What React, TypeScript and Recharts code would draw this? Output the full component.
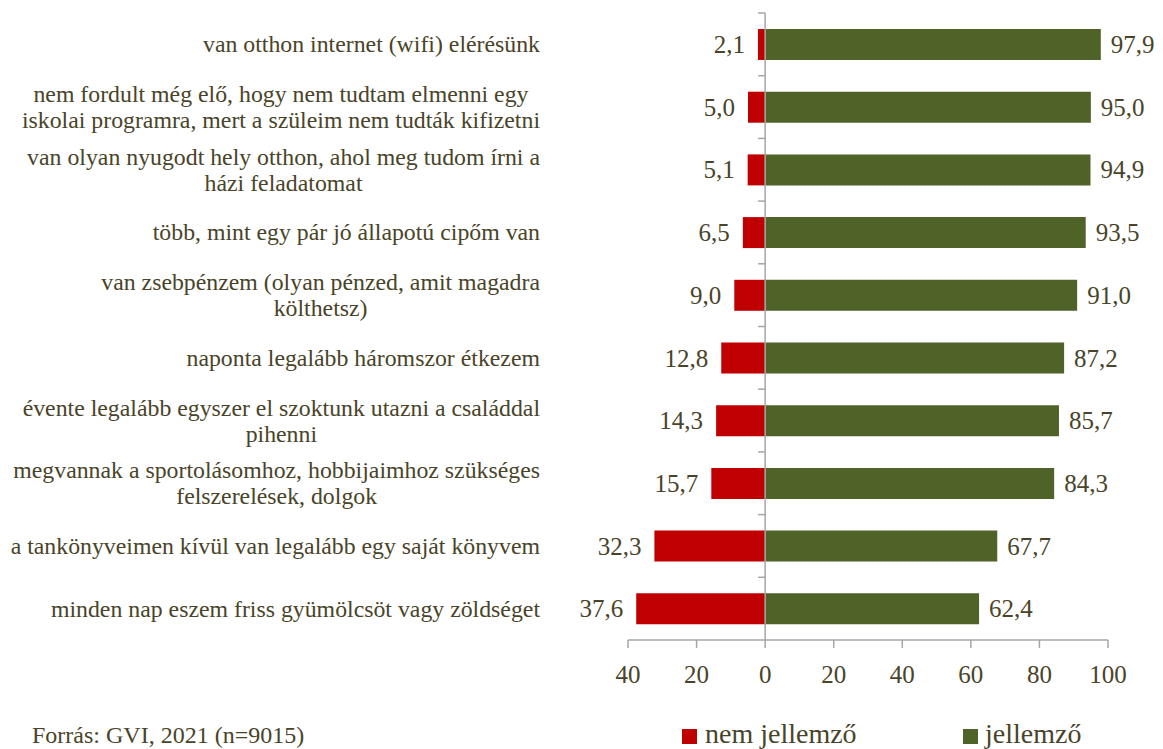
import { Bar, BarChart, LabelList, ReferenceLine, XAxis, YAxis } from "recharts";

const categories = [
  "van otthon internet (wifi) elérésünk",
  "nem fordult még elő, hogy nem tudtam elmenni egy\niskolai programra, mert a szüleim nem tudták kifizetni",
  "van olyan nyugodt hely otthon, ahol meg tudom írni a\nházi feladatomat",
  "több, mint egy pár jó állapotú cipőm van",
  "van zsebpénzem (olyan pénzed, amit magadra\nkölthetsz)",
  "naponta legalább háromszor étkezem",
  "évente legalább egyszer el szoktunk utazni a családdal\npihenni",
  "megvannak a sportolásomhoz, hobbijaimhoz szükséges\nfelszerelések, dolgok",
  "a tankönyveimen kívül van legalább egy saját könyvem",
  "minden nap eszem friss gyümölcsöt vagy zöldséget",
];
const nemJellemzo = [2.1, 5.0, 5.1, 6.5, 9.0, 12.8, 14.3, 15.7, 32.3, 37.6];
const jellemzo = [97.9, 95.0, 94.9, 93.5, 91.0, 87.2, 85.7, 84.3, 67.7, 62.4];
const xTicks = [-40, -20, 0, 20, 40, 60, 80, 100];
const seriesNames = ["nem jellemző", "jellemző"];
const seriesColors = ["#C00000", "#4F6228"];
const sourceNote = "Forrás: GVI, 2021 (n=9015)";

const FONT = '"Liberation Serif", "Times New Roman", serif';
const TEXT = "#494429";
const AXIS = "#a6a6a6";
const LABEL_SIZE = 23.8;

// negatives go left of zero, stackOffset="sign" keeps both bars starting at 0
const data = categories.map((name, i) => ({
  name,
  nem: -nemJellemzo[i],
  igen: jellemzo[i],
}));

let measureCtx: CanvasRenderingContext2D | null = null;
function textWidth(s: string, size: number) {
  if (!measureCtx) measureCtx = document.createElement("canvas").getContext("2d");
  if (!measureCtx) return s.length * size * 0.45;
  measureCtx.font = `${size}px ${FONT}`;
  return measureCtx.measureText(s).width;
}

const fmt = (v: number) => Math.abs(v).toFixed(1).replace(".", ",");

function CategoryTick({ x, y, payload }: any) {
  const lines = String(payload.value).split("\n");
  const blockW = Math.max(...lines.map((l) => textWidth(l, LABEL_SIZE)));
  // block is right-aligned, lines centred inside it
  const cx = Number(x) - 88 - blockW / 2;
  const lh = 26;
  return (
    <g>
      {lines.map((l, i) => (
        <text
          key={i}
          x={cx}
          y={Number(y) + (i - (lines.length - 1) / 2) * lh}
          textAnchor="middle"
          dominantBaseline="central"
          fontSize={LABEL_SIZE}
          fontFamily={FONT}
          fill={TEXT}
        >
          {l}
        </text>
      ))}
    </g>
  );
}

function ValueLabel(props: any) {
  const x = Number(props.x);
  const w = Number(props.width);
  const y = Number(props.y);
  const h = Number(props.height);
  const v = Number(props.value);
  const neg = v < 0;
  const left = Math.min(x, x + w);
  const right = Math.max(x, x + w);
  return (
    <text
      x={neg ? left - 13 : right + 10}
      y={y + h / 2}
      textAnchor={neg ? "end" : "start"}
      dominantBaseline="central"
      fontSize={25}
      fontFamily={FONT}
      fill={TEXT}
    >
      {fmt(v)}
    </text>
  );
}

// vertical category axis sitting on the zero line, ticks between rows
function ZeroAxis(props: any) {
  const x = Number(props.x1);
  const top = Math.min(Number(props.y1), Number(props.y2));
  const bottom = Math.max(Number(props.y1), Number(props.y2));
  const step = (bottom - top) / categories.length;
  return (
    <g>
      <line x1={x} x2={x} y1={top} y2={bottom} stroke={AXIS} strokeWidth={1.5} />
      {categories.map((_, i) => (
        <line key={i} x1={x - 7} x2={x} y1={top + i * step} y2={top + i * step} stroke={AXIS} strokeWidth={1.5} />
      ))}
    </g>
  );
}

export default function App() {
  return (
    <div style={{ position: "relative", width: 1163, height: 749 }}>
      <style>{"body{margin:0}"}</style>
      <BarChart
        width={1163}
        height={749}
        data={data}
        layout="vertical"
        stackOffset="sign"
        barSize={31}
        margin={{ top: 13, right: 55, bottom: 49, left: 0 }}
      >
        <XAxis
          type="number"
          domain={[-40, 100]}
          ticks={xTicks}
          interval={0}
          allowDataOverflow
          tickFormatter={(v) => String(Math.abs(v))}
          height={60}
          tickSize={8}
          tickMargin={17}
          axisLine={{ stroke: AXIS, strokeWidth: 1.5 }}
          tickLine={{ stroke: AXIS, strokeWidth: 1.5 }}
          tick={{ fontSize: 25, fill: TEXT, fontFamily: FONT }}
        />
        <YAxis
          type="category"
          dataKey="name"
          width={628}
          interval={0}
          axisLine={false}
          tickLine={false}
          tickSize={0}
          tickMargin={0}
          tick={(p: any) => <CategoryTick {...p} />}
        />
        <Bar dataKey="nem" name={seriesNames[0]} stackId="a" fill={seriesColors[0]} isAnimationActive={false}>
          <LabelList dataKey="nem" content={ValueLabel} />
        </Bar>
        <Bar dataKey="igen" name={seriesNames[1]} stackId="a" fill={seriesColors[1]} isAnimationActive={false}>
          <LabelList dataKey="igen" content={ValueLabel} />
        </Bar>
        <ReferenceLine x={0} shape={ZeroAxis} />
      </BarChart>

      <svg
        width={1163}
        height={749}
        style={{ position: "absolute", top: 0, left: 0, pointerEvents: "none" }}
      >
        <text x={32} y={743} fontSize={24} fontFamily={FONT} fill={TEXT}>
          {sourceNote}
        </text>
        <rect x={682} y={729} width={15} height={15} fill={seriesColors[0]} />
        <text x={705} y={743} fontSize={28} fontFamily={FONT} fill={TEXT}>
          {seriesNames[0]}
        </text>
        <rect x={963} y={729} width={15} height={15} fill={seriesColors[1]} />
        <text x={985} y={743} fontSize={28} fontFamily={FONT} fill={TEXT}>
          {seriesNames[1]}
        </text>
      </svg>
    </div>
  );
}
